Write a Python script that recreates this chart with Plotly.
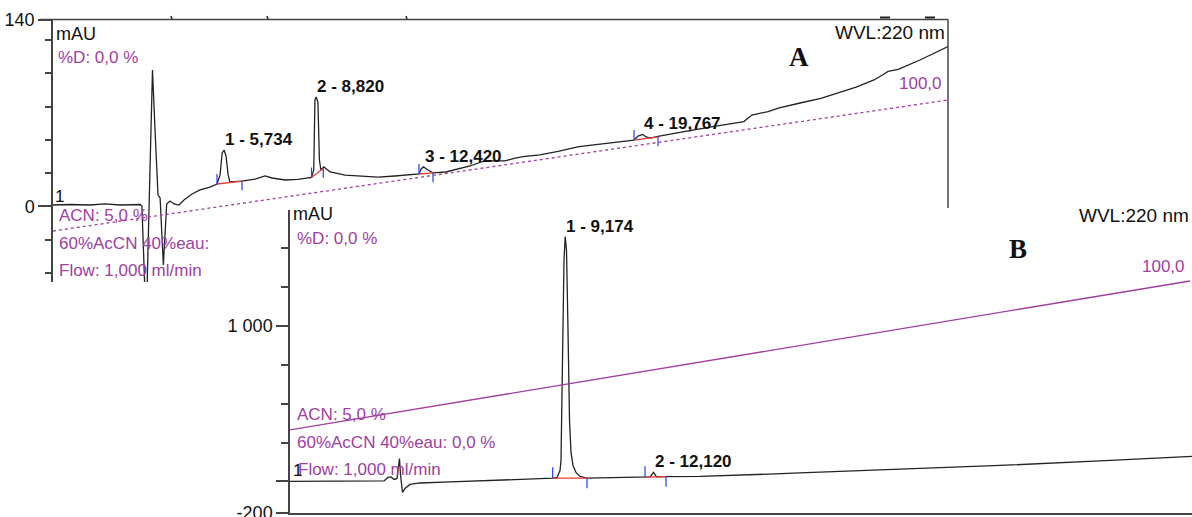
import plotly.graph_objects as go

# ---------------- data ----------------
# Chromatogram A (time in min, signal in mAU)
a_time = [0, 0.57, 1.24, 1.74, 2.25, 2.92, 2.98, 3.08, 3.15, 3.335, 3.42, 3.52, 3.59, 3.70, 3.81, 3.92,
          4.06, 4.22, 4.39, 4.66, 4.93, 5.26, 5.497, 5.60, 5.67, 5.734, 5.80, 5.87, 5.93, 6.335, 6.77,
          7.11, 7.34, 7.78, 8.21, 8.665, 8.74, 8.78, 8.82, 8.88, 8.93, 8.98, 9.08, 9.29, 9.79, 10.29,
          10.89, 11.46, 11.97, 12.268, 12.34, 12.42, 12.57, 12.738, 13.17, 13.41, 13.98, 14.45, 15.15,
          15.49, 15.75, 16.32, 16.93, 17.63, 18.34, 19.04, 19.476, 19.61, 19.767, 19.88, 20.03, 20.279,
          21.02, 21.39, 22.22, 23.16, 23.30, 23.43, 23.97, 24.34, 25.04, 25.74, 26.92, 27.52, 27.86,
          27.99, 28.33, 29.06, 30.0]
a_mau = [1.1, 1.5, 1.1, 1.9, 1.1, 1.5, 0.4, -63, -63, 102.5, 57.4, 8.6, 6.4, -43.9, 1.9, 4.1,
         1.9, 1.1, 4.9, 9.4, 12.4, 14.6, 16.9, 23.7, 40.2, 42.4, 37.9, 23.7, 18.4, 19.1, 20.6,
         22.9, 21.4, 19.9, 20.3, 21.8, 27.4, 80.0, 82.2, 78.4, 34.9, 27.4, 29.7, 25.9, 23.6, 22.9,
         22.1, 22.9, 23.6, 24.4, 28.2, 29.7, 27.4, 25.2, 25.9, 27.4, 30.4, 34.2, 34.2,
         36.4, 37.5, 38.7, 41.3, 45.0, 46.9, 48.8, 49.9, 52.9, 54.1, 52.2, 51.4, 52.6,
         55.9, 57.1, 60.4, 63.8, 66.4, 68.7, 71.3, 74.0, 77.7, 81.1, 89.7, 95.0, 99.5,
         101.4, 102.9, 110.0, 120.1]

# Chromatogram B
b_time = [0, 1.667, 3.133, 3.267, 3.367, 3.467, 3.567, 3.650, 3.683, 3.750, 3.833, 4.0, 4.333, 5.333,
          7.0, 8.757, 8.9, 9.0, 9.033, 9.083, 9.133, 9.174, 9.217, 9.267, 9.317, 9.367, 9.433, 9.533,
          9.667, 9.9, 11.0, 11.833, 12.0, 12.12, 12.217, 12.533, 13.667, 17.0, 20.333, 23.667, 27.0, 30.067]
b_mau = [0, 0, 3.2, 25.8, 29.0, 12.9, 19.3, 148, 45, -70.8, -45, -19.3, -9.7, -3.2,
         6.4, 21.2, 25.8, 70.8, 135, 843, 1423, 1577, 1487, 972, 393, 187, 103, 58,
         32, 21.2, 25.8, 27.7, 29, 58, 30.3, 30.9, 32.2, 54.7, 77.3, 103, 132, 161]

# Peaks (retention times, apex heights, labels)
a_peak_rt = [5.734, 8.820, 12.420, 19.767]
a_peak_height = [42.4, 82.2, 29.7, 54.1]
a_peak_labels = ["1 - 5,734", "2 - 8,820", "3 - 12,420", "4 - 19,767"]
a_int_start_t = [5.497, 8.665, 12.268, 19.476]
a_int_start_v = [16.9, 21.8, 24.4, 49.9]
a_int_end_t = [6.335, 9.06, 12.738, 20.279]
a_int_end_v = [19.1, 28.5, 25.2, 52.2]

b_peak_rt = [9.174, 12.120]
b_peak_height = [1577, 58]
b_peak_labels = ["1 - 9,174", "2 - 12,120"]
b_int_start_t = [8.757, 11.833]
b_int_start_v = [21.2, 27.7]
b_int_end_t = [9.9, 12.533]
b_int_end_v = [21.2, 30.9]

# Gradient (%B) program
gradient_time = [0, 30]
gradient_pct = [5.0, 100.0]

# Axis tick values / labels
a_major_ticks = [0, 140]
a_major_text = ["0", "140"]
a_minor_ticks = [-50, -25, 25, 50, 75, 100, 125]
b_major_ticks = [-200, 0, 1000]
b_major_text = ["-200", "", "1 000"]
b_minor_ticks = [250, 500, 750, 1250, 1500]

# ---------------- layout helpers ----------------
W, H = 1192, 517
def fx(x):
    return x / W
def fy(y):
    return 1 - y / H

PURPLE = "#A0409F"
BLACK = "#111111"
AXC = "#444444"
SANS = "Liberation Sans, Arial, sans-serif"
SERIF = "Liberation Serif, Times New Roman, serif"

fig = go.Figure()

def tick_segments(ts, vs, length):
    xs, ys = [], []
    for t, v in zip(ts, vs):
        xs += [t, t, None]
        ys += [v, v + length, None]
    return xs, ys

def base_segments(t0, v0, t1, v1):
    xs, ys = [], []
    for a, b, c, d in zip(t0, v0, t1, v1):
        xs += [a, c, None]
        ys += [b, d, None]
    return xs, ys

# ---- A ----
fig.add_trace(go.Scatter(x=gradient_time, y=gradient_pct, mode="lines", xaxis="x", yaxis="y3",
                         line=dict(color=PURPLE, width=1.3, dash="dot"), hoverinfo="skip"))
fig.add_trace(go.Scatter(x=a_time, y=a_mau, mode="lines", xaxis="x", yaxis="y",
                         line=dict(color="#222222", width=1.3)))
bx, by = base_segments(a_int_start_t, a_int_start_v, a_int_end_t, a_int_end_v)
fig.add_trace(go.Scatter(x=bx, y=by, mode="lines", xaxis="x", yaxis="y",
                         line=dict(color="#F03A2E", width=1.3)))
sx, sy = tick_segments(a_int_start_t, a_int_start_v, 7.5)
ex, ey = tick_segments(a_int_end_t, a_int_end_v, -7.0)
fig.add_trace(go.Scatter(x=sx + ex, y=sy + ey, mode="lines", xaxis="x", yaxis="y",
                         line=dict(color="#2040F0", width=1.2)))

# ---- B ----
fig.add_trace(go.Scatter(x=gradient_time, y=gradient_pct, mode="lines", xaxis="x2", yaxis="y4",
                         line=dict(color=PURPLE, width=1.3)))
fig.add_trace(go.Scatter(x=b_time, y=b_mau, mode="lines", xaxis="x2", yaxis="y2",
                         line=dict(color="#222222", width=1.3)))
bx, by = base_segments(b_int_start_t, b_int_start_v, b_int_end_t, b_int_end_v)
fig.add_trace(go.Scatter(x=bx, y=by, mode="lines", xaxis="x2", yaxis="y2",
                         line=dict(color="#F03A2E", width=1.3)))
sx, sy = tick_segments(b_int_start_t, b_int_start_v, 70)
ex, ey = tick_segments(b_int_end_t, b_int_end_v, -65)
fig.add_trace(go.Scatter(x=sx + ex, y=sy + ey, mode="lines", xaxis="x2", yaxis="y2",
                         line=dict(color="#2040F0", width=1.2)))

# ---------------- axes ----------------
A_X = [fx(53), fx(948)]
A_Y = [fy(282), fy(19.5)]
B_X = [fx(290), fx(1192)]
B_Y = [fy(513), fy(209.5)]

tickfont = dict(family=SANS, size=18, color=BLACK)
fig.update_layout(
    width=W, height=H, margin=dict(l=0, r=0, t=0, b=0),
    paper_bgcolor="white", plot_bgcolor="rgba(0,0,0,0)", showlegend=False,
    xaxis=dict(domain=A_X, range=[0, 30], anchor="y", showline=False, showticklabels=False,
               ticks="", showgrid=False, zeroline=False, automargin=False),
    yaxis=dict(domain=A_Y, range=[-56.7, 140.4], anchor="x", showline=True, linecolor=AXC, linewidth=1.5,
               showgrid=False, zeroline=False, ticks="outside", ticklen=13, tickwidth=1.5, tickcolor=AXC,
               tickvals=a_major_ticks, ticktext=a_major_text, tickfont=tickfont, automargin=False,
               ticklabeloverflow="allow",
               minor=dict(tickvals=a_minor_ticks, ticks="outside", ticklen=6, tickwidth=1.5,
                          tickcolor=AXC, showgrid=False)),
    yaxis3=dict(overlaying="y", anchor="x", range=[-32.0, 158.4], visible=False),
    xaxis2=dict(domain=B_X, range=[0, 30.067], anchor="y2", showline=True, linecolor=AXC, linewidth=1.5,
                showticklabels=False, ticks="", showgrid=False, zeroline=False, automargin=False),
    yaxis2=dict(domain=B_Y, range=[-203, 1751], anchor="x2", showline=True, linecolor=AXC, linewidth=1.5,
                showgrid=False, zeroline=False, ticks="outside", ticklen=12, tickwidth=1.5, tickcolor=AXC,
                tickvals=b_major_ticks, ticktext=b_major_text, tickfont=tickfont, automargin=False,
                ticklabeloverflow="allow",
                minor=dict(tickvals=b_minor_ticks, ticks="outside", ticklen=7, tickwidth=1.5,
                           tickcolor=AXC, showgrid=False)),
    yaxis4=dict(overlaying="y2", anchor="x2", range=[-48.0, 145.6], visible=False),
)

# frame of A (top and right borders) + remnants above
shapes = [
    dict(type="line", xref="paper", yref="paper", x0=fx(40), x1=fx(948), y0=fy(19.5), y1=fy(19.5),
         line=dict(color=AXC, width=1.5)),
    dict(type="line", xref="paper", yref="paper", x0=fx(948), x1=fx(948), y0=fy(19.5), y1=fy(208),
         line=dict(color=AXC, width=1.5)),
]
for xm in [171, 267, 406]:
    shapes.append(dict(type="line", xref="paper", yref="paper", x0=fx(xm), x1=fx(xm + 1),
                       y0=fy(16), y1=fy(19), line=dict(color="#222", width=1.5)))
for xm in [880, 925]:
    shapes.append(dict(type="line", xref="paper", yref="paper", x0=fx(xm), x1=fx(xm + 10),
                       y0=fy(17.5), y1=fy(17.5), line=dict(color="#222", width=2)))
fig.update_layout(shapes=shapes)

# ---------------- text ----------------
ann = []
def txt(s, x, y, size, color=BLACK, family=SANS, xanchor="left", yanchor="middle"):
    ann.append(dict(text=s, x=fx(x), y=fy(y), xref="paper", yref="paper", showarrow=False,
                    xanchor=xanchor, yanchor=yanchor, borderpad=0,
                    font=dict(family=family, size=size, color=color)))

# A panel texts
txt("mAU", 55, 34, 18)
txt("%D: 0,0 %", 57, 57, 17, PURPLE)
txt("WVL:220 nm", 946, 33, 19, xanchor="right")
txt("<b>A</b>", 799, 57, 27, family=SERIF, xanchor="center")
txt("100,0", 943, 84, 17, PURPLE, xanchor="right")
txt("1", 54, 197, 17)
txt("ACN: 5,0 %", 58, 215, 17, PURPLE)
txt("60%AcCN 40%eau:", 58, 243.5, 17, PURPLE)
txt("Flow: 1,000 ml/min", 58, 270, 17, PURPLE)

# B panel texts
txt("mAU", 292, 214, 18)
txt("%D: 0,0 %", 296, 238, 17, PURPLE)
txt("WVL:220 nm", 1190, 215, 19, xanchor="right")
txt("<b>B</b>", 1018, 249, 27, family=SERIF, xanchor="center")
txt("100,0", 1186, 266, 17, PURPLE, xanchor="right")
txt("ACN: 5,0 %", 296, 414, 17, PURPLE)
txt("60%AcCN 40%eau: 0,0 %", 296, 442, 17, PURPLE)
txt("Flow: 1,000 ml/min", 297, 469, 17, PURPLE)
txt("1", 292, 470, 17)

# peak labels placed at apex via data axes
for rt, h, lab in zip(a_peak_rt, a_peak_height, a_peak_labels):
    ann.append(dict(text="<b>" + lab + "</b>", x=rt, y=h, xref="x", yref="y", showarrow=False,
                    xanchor="left", yanchor="bottom", borderpad=0,
                    font=dict(family=SANS, size=17, color=BLACK)))
for rt, h, lab in zip(b_peak_rt, b_peak_height, b_peak_labels):
    ann.append(dict(text="<b>" + lab + "</b>", x=rt, y=h, xref="x2", yref="y2", showarrow=False,
                    xanchor="left", yanchor="bottom", borderpad=0,
                    font=dict(family=SANS, size=17, color=BLACK)))

fig.update_layout(annotations=ann)
fig.write_html("out.html", config={"displayModeBar": False},
               post_script="document.body.style.margin='0';document.body.style.overflow='hidden';")
